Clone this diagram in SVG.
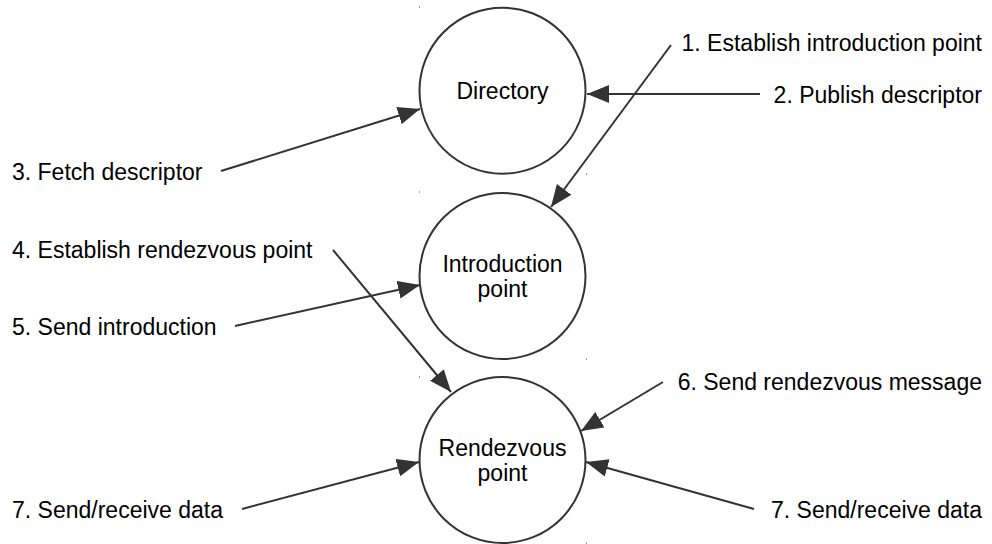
<svg xmlns="http://www.w3.org/2000/svg" width="992" height="544" viewBox="0 0 992 544">
  <style>
    .node circle { fill: #ffffff; stroke: #333333; stroke-width: 2; }
    text { font-family: "Liberation Sans", Arial, sans-serif; font-size: 23px; fill: #000000; }
    .c { text-anchor: middle; }
    .r { text-anchor: end; }
    .conn line { stroke: #333333; stroke-width: 2; fill: none; marker-end: url(#arrow); }
    .tick { fill: #9a9a9a; }
  </style>
  <defs>
    <marker id="arrow" markerUnits="userSpaceOnUse" markerWidth="22" markerHeight="18" refX="22" refY="9" orient="auto">
      <path d="M0,0 L22,9 L0,18 Z" fill="#333333"/>
    </marker>
  </defs>
  <rect width="992" height="544" fill="#ffffff"/>

  <g id="ticks">
    <rect class="tick" x="419" y="6" width="1" height="2"/>
    <rect class="tick" x="586" y="173" width="1" height="2"/>
    <rect class="tick" x="419" y="191" width="1" height="2"/>
    <rect class="tick" x="586" y="358" width="1" height="2"/>
    <rect class="tick" x="419" y="376" width="1" height="2"/>
    <rect class="tick" x="586" y="542" width="1" height="2"/>
  </g>

  <g id="directory" class="node">
    <circle cx="502.5" cy="90.7" r="83"/>
    <text class="c" x="502.5" y="99">Directory</text>
  </g>
  <g id="introduction-point" class="node">
    <circle cx="502.5" cy="276" r="83"/>
    <text class="c" x="502.5" y="272">Introduction</text>
    <text class="c" x="502.5" y="297">point</text>
  </g>
  <g id="rendezvous-point" class="node">
    <circle cx="502.5" cy="460" r="83"/>
    <text class="c" x="502.5" y="456">Rendezvous</text>
    <text class="c" x="502.5" y="481">point</text>
  </g>

  <g id="connectors" class="conn">
    <line x1="671" y1="45" x2="551" y2="207"/>
    <line x1="760" y1="94" x2="587" y2="94"/>
    <line x1="221" y1="171" x2="420" y2="109"/>
    <line x1="333" y1="250" x2="451" y2="392"/>
    <line x1="235" y1="326" x2="420" y2="285"/>
    <line x1="663" y1="382" x2="581" y2="431"/>
    <line x1="242" y1="509" x2="419" y2="462"/>
    <line x1="754" y1="509" x2="586" y2="462"/>
  </g>

  <g id="labels">
    <text class="r" x="982" y="51">1. Establish introduction point</text>
    <text class="r" x="982" y="103">2. Publish descriptor</text>
    <text x="12" y="180">3. Fetch descriptor</text>
    <text x="12" y="258">4. Establish rendezvous point</text>
    <text x="12" y="335">5. Send introduction</text>
    <text class="r" x="982" y="390">6. Send rendezvous message</text>
    <text x="12" y="518">7. Send/receive data</text>
    <text class="r" x="982" y="518">7. Send/receive data</text>
  </g>
</svg>
